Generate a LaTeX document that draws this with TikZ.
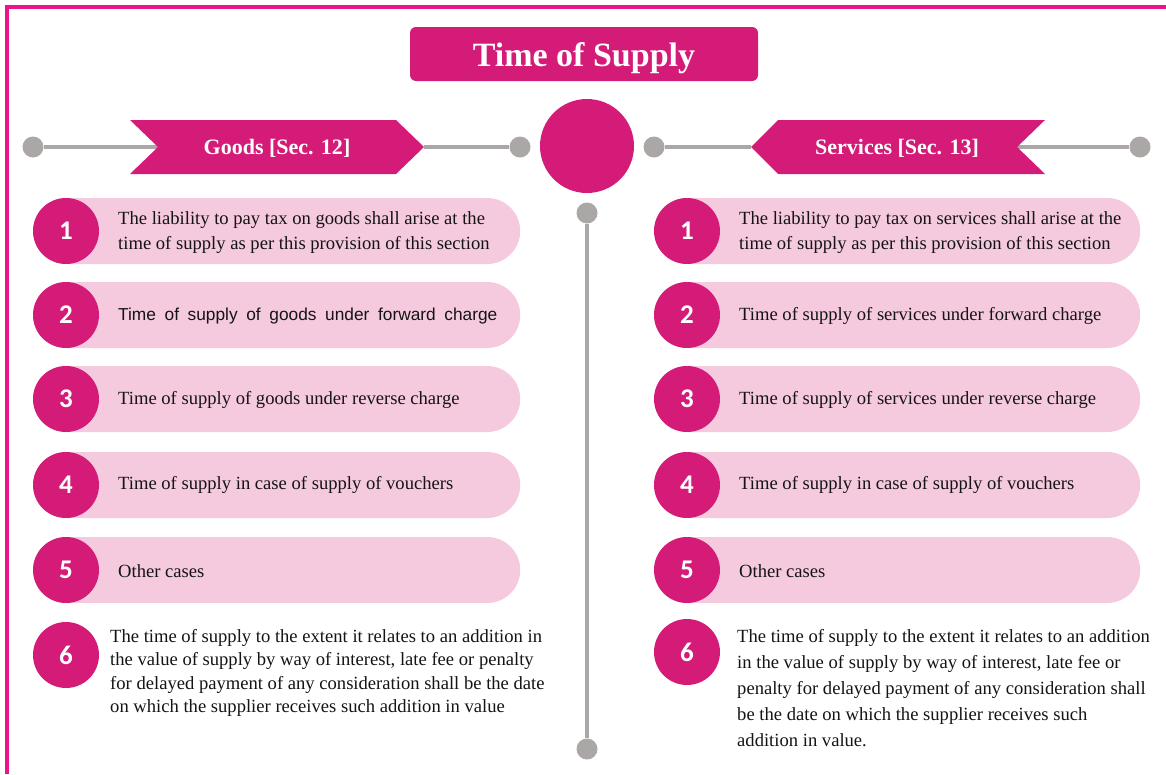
\documentclass[tikz,border=0pt]{standalone}
\usepackage{fontspec}
\setmainfont{Liberation Serif}
\newfontfamily\numfont{Carlito}
\newfontfamily\itemsans[WordSpace=1.8]{Liberation Sans}
\usepackage{tikz}
\usetikzlibrary{positioning}

\definecolor{tsmag}{RGB}{212,27,120}
\definecolor{tspink}{RGB}{245,201,222}
\definecolor{tsgray}{RGB}{171,167,167}
\definecolor{tsframe}{RGB}{236,20,140}
\definecolor{tstext}{RGB}{20,20,20}

\tikzset{
  numdot/.style={circle, fill=tsmag, text=white, minimum size=66pt, inner sep=0pt,
    font=\numfont\bfseries\fontsize{27}{27}\selectfont},
  pillbar/.style={fill=tspink, rounded corners=33pt, minimum height=66pt, inner sep=0pt, anchor=west},
  itemtext/.style={anchor=west, align=left, inner sep=0pt, text=tstext,
    font=\fontsize{18.6}{25}\selectfont},
  graydot/.style={circle, fill=tsgray, minimum size=21pt, inner sep=0pt},
  grayline/.style={draw=tsgray, line width=4pt},
  bannertext/.style={text=white, font=\bfseries\fontsize{22}{22}\selectfont}
}

\begin{document}
\begin{tikzpicture}[x=1pt, y=-1pt]
  \useasboundingbox (0,0) rectangle (1166,774);
  % frame
  \draw[tsframe, line width=3.2pt] (7,774) -- (7,7) -- (1166,7);

  % title
  \node[fill=tsmag, rounded corners=6pt, minimum width=348pt, minimum height=54pt] (title) at (584,54) {};
  \node[text=white, font=\bfseries\fontsize{34}{34}\selectfont] (titletext) at ([yshift=-4pt]title.center) {Time of Supply};

  % centre circle and stem
  \node[circle, fill=tsmag, minimum size=94pt, inner sep=0pt] (hub) at (587,146) {};
  \node[graydot] (stemtop) at (587,213) {};
  \node[graydot] (stembot) at (587,749) {};
  \draw[grayline] (stemtop) -- (stembot);

  % goods banner
  \node[graydot] (gl) at (33,147) {};
  \node[graydot] (gr) at (520,147) {};
  \coordinate (gbl) at (158,147);
  \coordinate (gbr) at (424,147);
  \draw[grayline] (gl) -- (gbl);
  \draw[grayline] (gbr) -- (gr);
  \fill[tsmag] (130,120) -- (396,120) -- (gbr) -- (396,174) -- (130,174) -- (gbl) -- cycle;
  \node[bannertext] (goods) at (277,148) {Goods [Sec. 12]};

  % services banner
  \node[graydot] (sl) at (654,147) {};
  \node[graydot] (sr) at (1140,147) {};
  \coordinate (sbl) at (751,147);
  \coordinate (sbr) at (1017,147);
  \draw[grayline] (sl) -- (sbl);
  \draw[grayline] (sbr) -- (sr);
  \fill[tsmag] (sbl) -- (778,120) -- (1045,120) -- (sbr) -- (1045,174) -- (778,174) -- cycle;
  \node[bannertext] (services) at (897,148) {Services [Sec. 13]};

  % pills and numbers
  \foreach \i/\y in {1/231, 2/315, 3/399, 4/485, 5/570} {
    \node[pillbar, minimum width=487pt] (gp\i) at (33,\y) {};
    \node[numdot] (gn\i) at (66,\y) {\i};
    \node[pillbar, minimum width=486pt] (sp\i) at (654,\y) {};
    \node[numdot] (sn\i) at (687,\y) {\i};
  }
  \node[numdot] (gn6) at (66,655) {6};
  \node[numdot] (sn6) at (687,652) {6};

  % goods texts
  \node[itemtext] (gt1) at (118,233) {The liability to pay tax on goods shall arise at the\\time of supply as per this provision of this section};
  \node[itemtext, font=\itemsans\fontsize{17.3}{24}\selectfont] (gt2) at (118,316) {Time of supply of goods under forward charge};
  \node[itemtext] (gt3) at (118,400) {Time of supply of goods under reverse charge};
  \node[itemtext] (gt4) at (118,485) {Time of supply in case of supply of vouchers};
  \node[itemtext] (gt5) at (118,571) {Other cases};
  \node[itemtext, font=\fontsize{18.6}{23.5}\selectfont] (gt6) at (110,673) {The time of supply to the extent it relates to an addition in\\the value of supply by way of interest, late fee or penalty\\for delayed payment of any consideration shall be the date\\on which the supplier receives such addition in value};

  % services texts
  \node[itemtext] (st1) at (739,233) {The liability to pay tax on services shall arise at the\\time of supply as per this provision of this section};
  \node[itemtext] (st2) at (739,316) {Time of supply of services under forward charge};
  \node[itemtext] (st3) at (739,400) {Time of supply of services under reverse charge};
  \node[itemtext] (st4) at (739,485) {Time of supply in case of supply of vouchers};
  \node[itemtext] (st5) at (739,571) {Other cases};
  \node[itemtext, font=\fontsize{18.6}{26}\selectfont] (st6) at (737,688) {The time of supply to the extent it relates to an addition\\in the value of supply by way of interest, late fee or\\penalty for delayed payment of any consideration shall\\be the date on which the supplier receives such\\addition in value.};
\end{tikzpicture}
\end{document}
